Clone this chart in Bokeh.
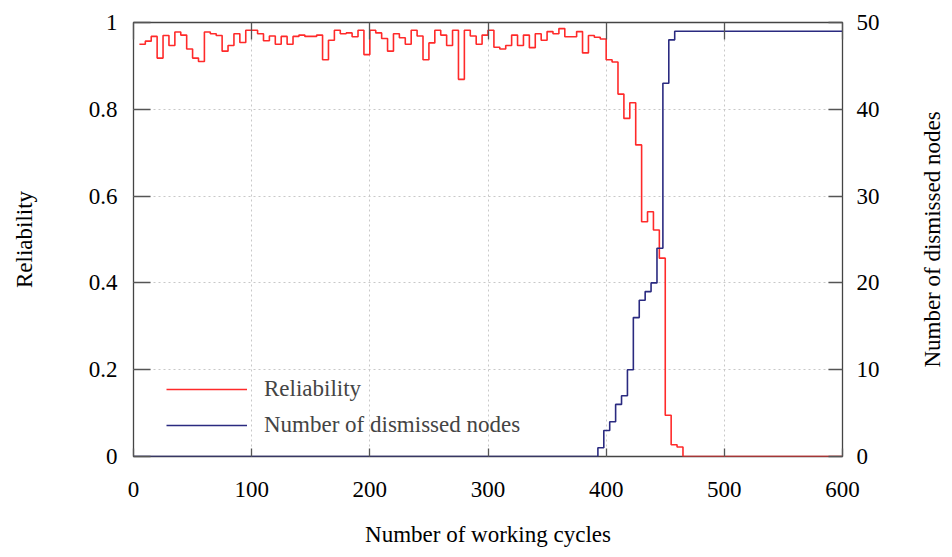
import math
from bokeh.plotting import figure
from bokeh.layouts import row
from bokeh.models import Range1d, LinearAxis, FixedTicker, Legend, LegendItem, Label
from bokeh.embed import file_html
from bokeh.resources import INLINE

# ---- data ----
red_x = list(range(5, 605, 5))
reliability = [
    0.950, 0.957, 0.968, 0.918, 0.970, 0.947, 0.978, 0.971, 0.939, 0.918,
    0.910, 0.978, 0.974, 0.970, 0.934, 0.947, 0.974, 0.954, 0.982, 0.982,
    0.974, 0.958, 0.969, 0.950, 0.968, 0.950, 0.968, 0.971, 0.968, 0.968,
    0.971, 0.914, 0.959, 0.982, 0.974, 0.976, 0.967, 0.982, 0.926, 0.982,
    0.976, 0.963, 0.934, 0.974, 0.965, 0.950, 0.982, 0.969, 0.914, 0.953,
    0.982, 0.971, 0.947, 0.982, 0.869, 0.982, 0.969, 0.950, 0.971, 0.982,
    0.943, 0.939, 0.947, 0.971, 0.947, 0.971, 0.942, 0.974, 0.959, 0.979,
    0.974, 0.986, 0.967, 0.967, 0.979, 0.930, 0.970, 0.966, 0.962, 0.914,
    0.909, 0.835, 0.779, 0.815, 0.718, 0.541, 0.564, 0.522, 0.457, 0.095,
    0.027, 0.022, 0, 0, 0, 0, 0, 0, 0, 0,
    0, 0, 0, 0, 0, 0, 0, 0, 0, 0,
    0, 0, 0, 0, 0, 0, 0, 0, 0, 0,
]
blue_x = [0, 393, 398, 403, 408, 413, 418, 423, 428, 433, 438, 443, 448, 453, 458, 600]
dismissed = [0, 1, 3, 4, 6, 7, 10, 16, 18, 19, 20, 24, 43, 48, 49, 49]

x_ticks = [0, 100, 200, 300, 400, 500, 600]
left_ticks = [0, 0.2, 0.4, 0.6, 0.8, 1.0]
left_labels = ["0", "0.2", "0.4", "0.6", "0.8", "1"]
right_ticks = [0, 10, 20, 30, 40, 50]
right_title = "Number of dismissed nodes"

FONT = "Liberation Serif"
FS = "23px"
RED = "#ff2a2a"
BLUE = "#2a2a80"
TICK = "#555555"

p = figure(width=900, height=549, output_backend="svg", toolbar_location=None,
           x_range=Range1d(0, 600), y_range=Range1d(0, 1),
           min_border_left=133, min_border_right=58, min_border_top=22, min_border_bottom=90)
p.extra_y_ranges = {"nodes": Range1d(0, 50)}
p.background_fill_color = "white"
p.border_fill_color = "white"
p.outline_line_color = "#444444"
p.outline_line_width = 1.3

r_red = p.step(red_x, reliability, mode="after", line_color=RED, line_width=1.6)
r_blue = p.step(blue_x, dismissed, mode="after", line_color=BLUE, line_width=1.6,
                y_range_name="nodes")

def style(ax, tick_in, standoff):
    ax.major_label_text_font = FONT
    ax.major_label_text_font_size = FS
    ax.major_label_text_color = "black"
    ax.axis_label_text_font = FONT
    ax.axis_label_text_font_size = FS
    ax.axis_label_text_font_style = "normal"
    ax.axis_label_text_color = "black"
    ax.axis_line_color = None
    ax.major_tick_in = tick_in
    ax.major_tick_out = 0
    ax.major_tick_line_color = TICK
    ax.major_tick_line_width = 1.3
    ax.minor_tick_line_color = None
    ax.major_label_standoff = standoff

# bottom x axis
xa = p.xaxis[0]
xa.ticker = FixedTicker(ticks=x_ticks)
xa.axis_label = "Number of working cycles"
style(xa, 8, 25)
xa.axis_label_standoff = 22

# left y axis
ya = p.yaxis[0]
ya.ticker = FixedTicker(ticks=left_ticks)
ya.major_label_overrides = {t: l for t, l in zip(left_ticks, left_labels)}
ya.axis_label = "Reliability"
style(ya, 17, 16)
ya.axis_label_standoff = 49

# right y axis
ra = LinearAxis(y_range_name="nodes", ticker=FixedTicker(ticks=right_ticks))
style(ra, 14, 14)
p.add_layout(ra, "right")

# top axis: ticks only
ta = LinearAxis(ticker=FixedTicker(ticks=x_ticks))
style(ta, 17, 0)
ta.major_label_overrides = {t: "" for t in x_ticks}
ta.major_label_text_font_size = "1px"
p.add_layout(ta, "above")

# grid
for g in (p.xgrid[0], p.ygrid[0]):
    g.grid_line_color = "#c8c8c8"
    g.grid_line_dash = "2 3"
    g.grid_line_width = 1
p.xgrid[0].ticker = FixedTicker(ticks=x_ticks)
p.ygrid[0].ticker = FixedTicker(ticks=left_ticks)

legend = Legend(items=[LegendItem(label="Reliability", renderers=[r_red]),
                       LegendItem(label="Number of dismissed nodes", renderers=[r_blue])],
                location=(33, 16), padding=0, margin=0, spacing=6,
                glyph_width=81, glyph_height=30, label_standoff=17,
                label_text_font=FONT, label_text_font_size=FS,
                border_line_color=None, background_fill_alpha=0)
p.add_layout(legend)

# narrow companion panel holding the right-hand axis title (reads bottom-to-top)
q = figure(width=44, height=549, output_backend="svg", toolbar_location=None,
           x_range=Range1d(0, 1), y_range=Range1d(0, 1),
           min_border_left=0, min_border_right=0, min_border_top=22, min_border_bottom=90)
q.axis.visible = False
q.grid.visible = False
q.outline_line_color = None
q.background_fill_color = "white"
q.border_fill_color = "white"
q.add_layout(Label(x=0.73, y=0.5, text=right_title, angle=math.pi / 2,
                   text_align="center", text_baseline="middle",
                   text_font=FONT, text_font_size=FS, text_color="black"))

layout = row(p, q, spacing=0)
open("out.html", "w").write(file_html(layout, INLINE))
